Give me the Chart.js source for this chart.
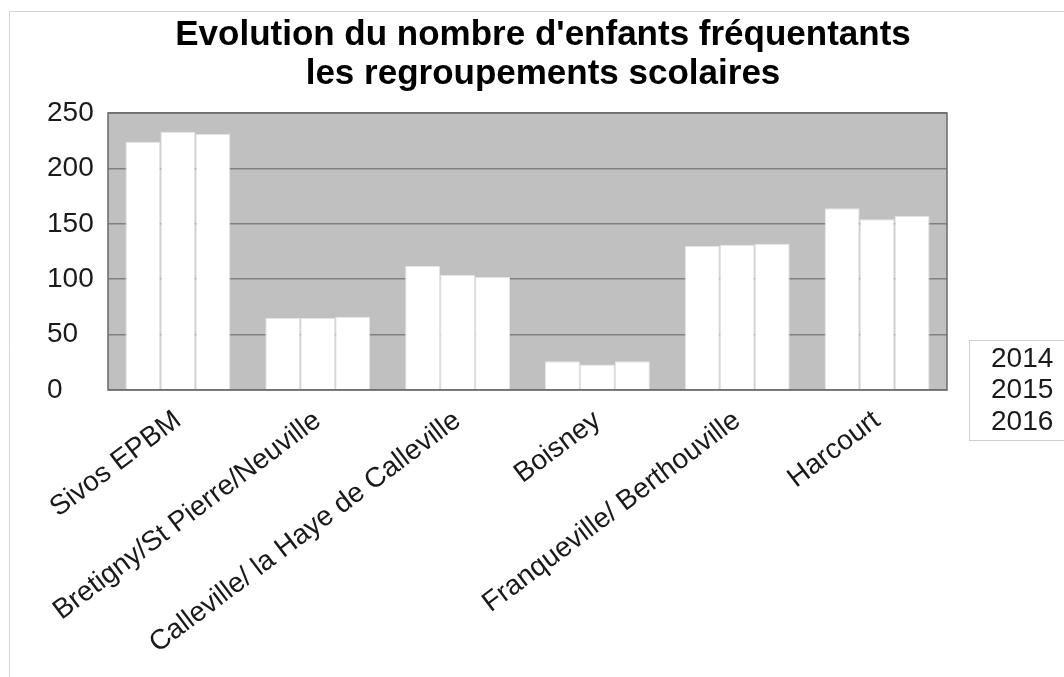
<!DOCTYPE html>
<html>
<head>
<meta charset="utf-8">
<script src="https://cdn.jsdelivr.net/npm/chart.js@4.4.1/dist/chart.umd.min.js"></script>
<style>
  html, body { margin: 0; padding: 0; background: #fff; }
  #wrap { width: 1064px; height: 677px; position: relative; }
</style>
</head>
<body>
<div id="wrap"><canvas id="chart"></canvas></div>
<script>
// Données
const categories = ['Sivos EPBM', 'Bretigny/St Pierre/Neuville', 'Calleville/ la Haye de Calleville',
    'Boisney', 'Franqueville/ Berthouville', 'Harcourt'];
const years = ['2014', '2015', '2016'];
const values2014 = [224, 65, 112, 26, 130, 164];
const values2015 = [233, 65, 104, 23, 131, 154];
const values2016 = [231, 66, 102, 26, 132, 157];
const yTicks = [0, 50, 100, 150, 200, 250];
const titleLines = ["Evolution du nombre d'enfants fréquentants", 'les regroupements scolaires'];

const FONT = "'Liberation Sans', Arial, sans-serif";

// fond gris de la zone de tracé + cadre de l'image + titre
const plotBackground = {
    id: 'plotBackground',
    beforeDraw(chart) {
        const { ctx, chartArea: a } = chart;
        ctx.save();
        ctx.fillStyle = '#c0c0c0';
        ctx.fillRect(a.left, a.top, a.right - a.left, a.bottom - a.top);
        ctx.strokeStyle = '#d4d4d4';
        ctx.lineWidth = 1;
        ctx.beginPath();
        ctx.moveTo(9.5, chart.height);
        ctx.lineTo(9.5, 11.5);
        ctx.lineTo(chart.width, 11.5);
        ctx.stroke();
        // titre
        ctx.fillStyle = '#000';
        ctx.font = 'bold 35px ' + FONT;
        ctx.textAlign = 'center';
        ctx.textBaseline = 'alphabetic';
        titleLines.forEach((t, i) => ctx.fillText(t, 543, 45 + i * 39));
        ctx.restore();
    },
    afterDatasetsDraw(chart) {
        const { ctx, chartArea: a } = chart;
        ctx.save();
        ctx.strokeStyle = '#6a6a6a';
        ctx.lineWidth = 1.5;
        ctx.strokeRect(a.left, a.top, a.right - a.left, a.bottom - a.top);
        ctx.restore();
    }
};

// légende encadrée à droite
const boxLegend = {
    id: 'boxLegend',
    afterDraw(chart) {
        const { ctx, chartArea: a } = chart;
        const x = a.right + 22, y = a.bottom - 50;
        ctx.save();
        ctx.strokeStyle = '#cfcfcf';
        ctx.lineWidth = 1;
        ctx.strokeRect(x + 0.5, y + 0.5, 120, 100);
        ctx.fillStyle = '#1a1a1a';
        ctx.font = '28px ' + FONT;
        ctx.textBaseline = 'middle';
        chart.data.datasets.forEach((ds, i) => {
            ctx.fillText(ds.label, x + 22, y + 19 + i * 31.5);
        });
        ctx.restore();
    }
};

const ctx = document.getElementById('chart').getContext('2d');
const myChart = new Chart(ctx, {
    type: 'bar',
    data: {
        labels: categories,
        datasets: [values2014, values2015, values2016].map((vals, i) => ({
            label: years[i],
            data: vals,
            backgroundColor: '#ffffff',
            borderColor: '#e4e4e4',
            borderWidth: 1,
            borderSkipped: 'bottom',
            barPercentage: 1.0,
            categoryPercentage: 0.75
        }))
    },
    options: {
        responsive: true,
        maintainAspectRatio: false,
        animation: false,
        layout: { padding: { left: 47, right: 117, top: 113, bottom: 10 } },
        plugins: {
            legend: { display: false },
            tooltip: { enabled: false },
            title: { display: false }
        },
        scales: {
            x: {
                grid: { display: false, drawTicks: false },
                border: { display: false },
                ticks: {
                    color: '#1a1a1a',
                    font: { family: FONT, size: 28 },
                    minRotation: 37,
                    maxRotation: 37,
                    autoSkip: false,
                    padding: 14
                }
            },
            y: {
                min: 0,
                max: 250,
                afterBuildTicks(scale) { scale.ticks = yTicks.map(v => ({ value: v })); },
                afterFit(scale) { scale.width = 61; },
                grid: { color: '#808080', lineWidth: 1.5, drawTicks: false },
                border: { display: false },
                ticks: {
                    color: '#1a1a1a',
                    font: { family: FONT, size: 28 },
                    padding: 1,
                    crossAlign: 'far'
                }
            }
        }
    },
    plugins: [plotBackground, boxLegend]
});
</script>
</body>
</html>
